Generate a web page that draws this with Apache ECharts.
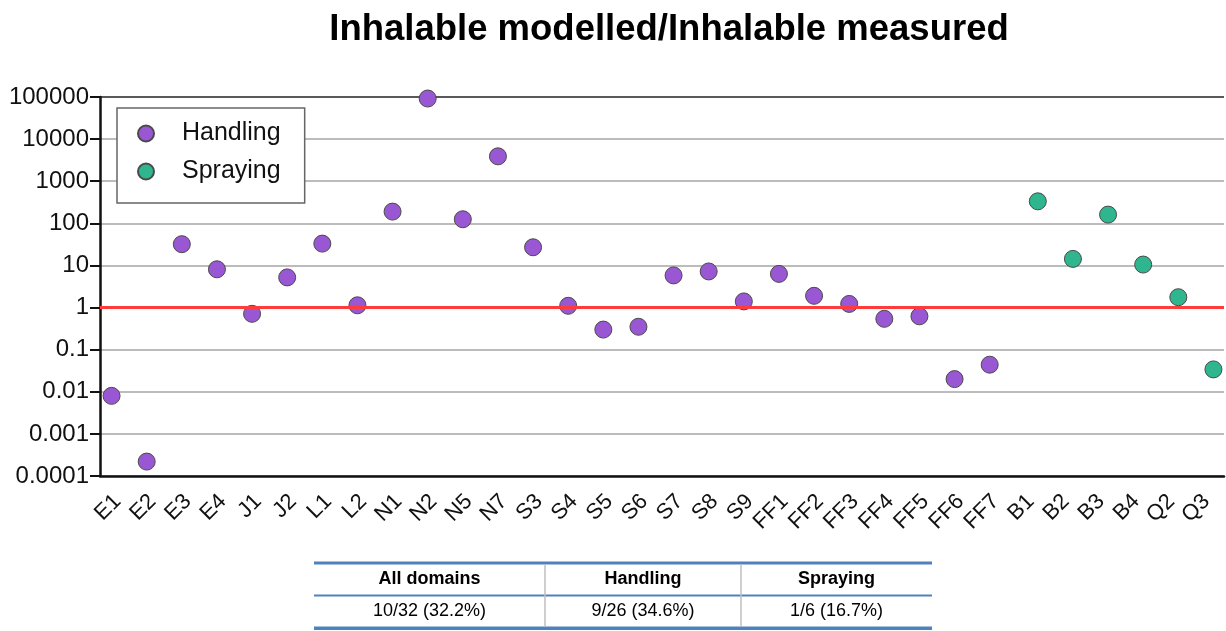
<!DOCTYPE html>
<html><head><meta charset="utf-8">
<script src="https://cdn.jsdelivr.net/npm/echarts@6/dist/echarts.min.js"></script>
<style>html,body{margin:0;padding:0;background:#fff}#c{width:1226px;height:631px}</style>
</head><body><div id="c"></div>
<script>
const categories = ['E1','E2','E3','E4','J1','J2','L1','L2','N1','N2','N5','N7','S3','S4','S5','S6','S7','S8','S9','FF1','FF2','FF3','FF4','FF5','FF6','FF7','B1','B2','B3','B4','Q2','Q3'];
const handling = [0.008, 0.00022, 32, 8.1, 0.71, 5.2, 33, 1.13, 190, 92000, 125, 3900, 27, 1.1, 0.30, 0.35, 5.8, 7.2, 1.4, 6.3, 1.9, 1.22, 0.54, 0.62, 0.02, 0.044, '-', '-', '-', '-', '-', '-'];
const spraying = ['-','-','-','-','-','-','-','-','-','-','-','-','-','-','-','-','-','-','-','-','-','-','-','-','-','-', 333, 14.3, 161, 10.5, 1.76, 0.034];
const referenceValue = 1;
const tableHeader = ['All domains', 'Handling', 'Spraying'];
const tableRow = ['10/32 (32.2%)', '9/26 (34.6%)', '1/6 (16.7%)'];

const FONT = "'Liberation Sans', Arial, sans-serif";
const colCenters = [429.5, 643, 836.5];
const graphic = [];
const blue = '#4f81bd';
graphic.push({type:'rect', shape:{x:314, y:561.5, width:618, height:3}, style:{fill:blue}});
graphic.push({type:'rect', shape:{x:314, y:594.5, width:618, height:2}, style:{fill:blue}});
graphic.push({type:'rect', shape:{x:314, y:626.5, width:618, height:3.5}, style:{fill:blue}});
[545, 741].forEach(x => graphic.push({type:'rect', shape:{x:x-0.75, y:564, width:1.5, height:63}, style:{fill:'#bfbfbf'}}));
tableHeader.forEach((t,i) => graphic.push({type:'text', x:colCenters[i], y:579.5, style:{text:t, font:"bold 18px " + FONT, fill:'#000', textAlign:'center', textVerticalAlign:'middle'}}));
tableRow.forEach((t,i) => graphic.push({type:'text', x:colCenters[i], y:611.5, style:{text:t, font:"18px " + FONT, fill:'#000', textAlign:'center', textVerticalAlign:'middle'}}));

const chart = echarts.init(document.getElementById('c'));
chart.setOption({
  animation: false,
  backgroundColor: '#fff',
  textStyle: {fontFamily: FONT},
  title: {
    text: 'Inhalable modelled/Inhalable measured',
    left: 664, textAlign: 'center', top: 6,
    textStyle: {fontSize: 36.5, fontWeight: 'bold', color: '#000', fontFamily: FONT}
  },
  legend: {
    orient: 'vertical', left: 117, top: 108,
    backgroundColor: '#fff',
    borderColor: '#666', borderWidth: 1.5, borderRadius: 0,
    padding: [13, 24, 19, 20],
    itemGap: 13, itemWidth: 16, itemHeight: 16,
    textStyle: {fontSize: 25, color: '#111', fontFamily: FONT, padding: [0,0,0,23]},
    data: [{name:'Handling', icon:'circle'}, {name:'Spraying', icon:'circle'}]
  },
  grid: {left: 100, right: 2, top: 97, bottom: 155, containLabel: false},
  xAxis: {
    type: 'category', data: categories, boundaryGap: true,
    axisLine: {lineStyle: {color: '#111', width: 2.5}},
    axisTick: {alignWithLabel: true, length: 10, lineStyle: {color: '#111', width: 2}},
    axisLabel: {rotate: 45, fontSize: 22, color: '#111', margin: 22, interval: 0, fontFamily: FONT},
    splitLine: {show: false}
  },
  yAxis: {
    type: 'log', logBase: 10, min: 0.0001, max: 100000,
    axisLine: {show: true, lineStyle: {color: '#111', width: 2.5}},
    axisTick: {show: true, length: 10, lineStyle: {color: '#111', width: 2}},
    axisLabel: {fontSize: 24, color: '#111', margin: 11, fontFamily: FONT,
      formatter: v => String(Number(Number(v).toPrecision(1)))},
    splitLine: {show: true, lineStyle: {color: ['#a6a6a6','#a6a6a6','#a6a6a6','#a6a6a6','#a6a6a6','#a6a6a6','#a6a6a6','#a6a6a6','#a6a6a6','#222'], width: 1.5}},
    minorTick: {show: false}
  },
  series: [
    {
      name: 'Handling', type: 'scatter', data: handling,
      symbolSize: 17, symbolOffset: [-6, 0],
      itemStyle: {color: '#9a57d4', borderColor: '#4a4a4a', borderWidth: 1, opacity: 1},
      z: 3,
      markLine: {
        silent: true, symbol: 'none', label: {show: false},
        lineStyle: {color: '#ff3c3c', width: 3, type: 'solid'},
        data: [{yAxis: referenceValue}]
      }
    },
    {
      name: 'Spraying', type: 'scatter', data: spraying,
      symbolSize: 17, symbolOffset: [7, 0],
      itemStyle: {color: '#2fb68f', borderColor: '#4a4a4a', borderWidth: 1, opacity: 1},
      z: 3
    }
  ],
  graphic: graphic
});
</script>
</body></html>
